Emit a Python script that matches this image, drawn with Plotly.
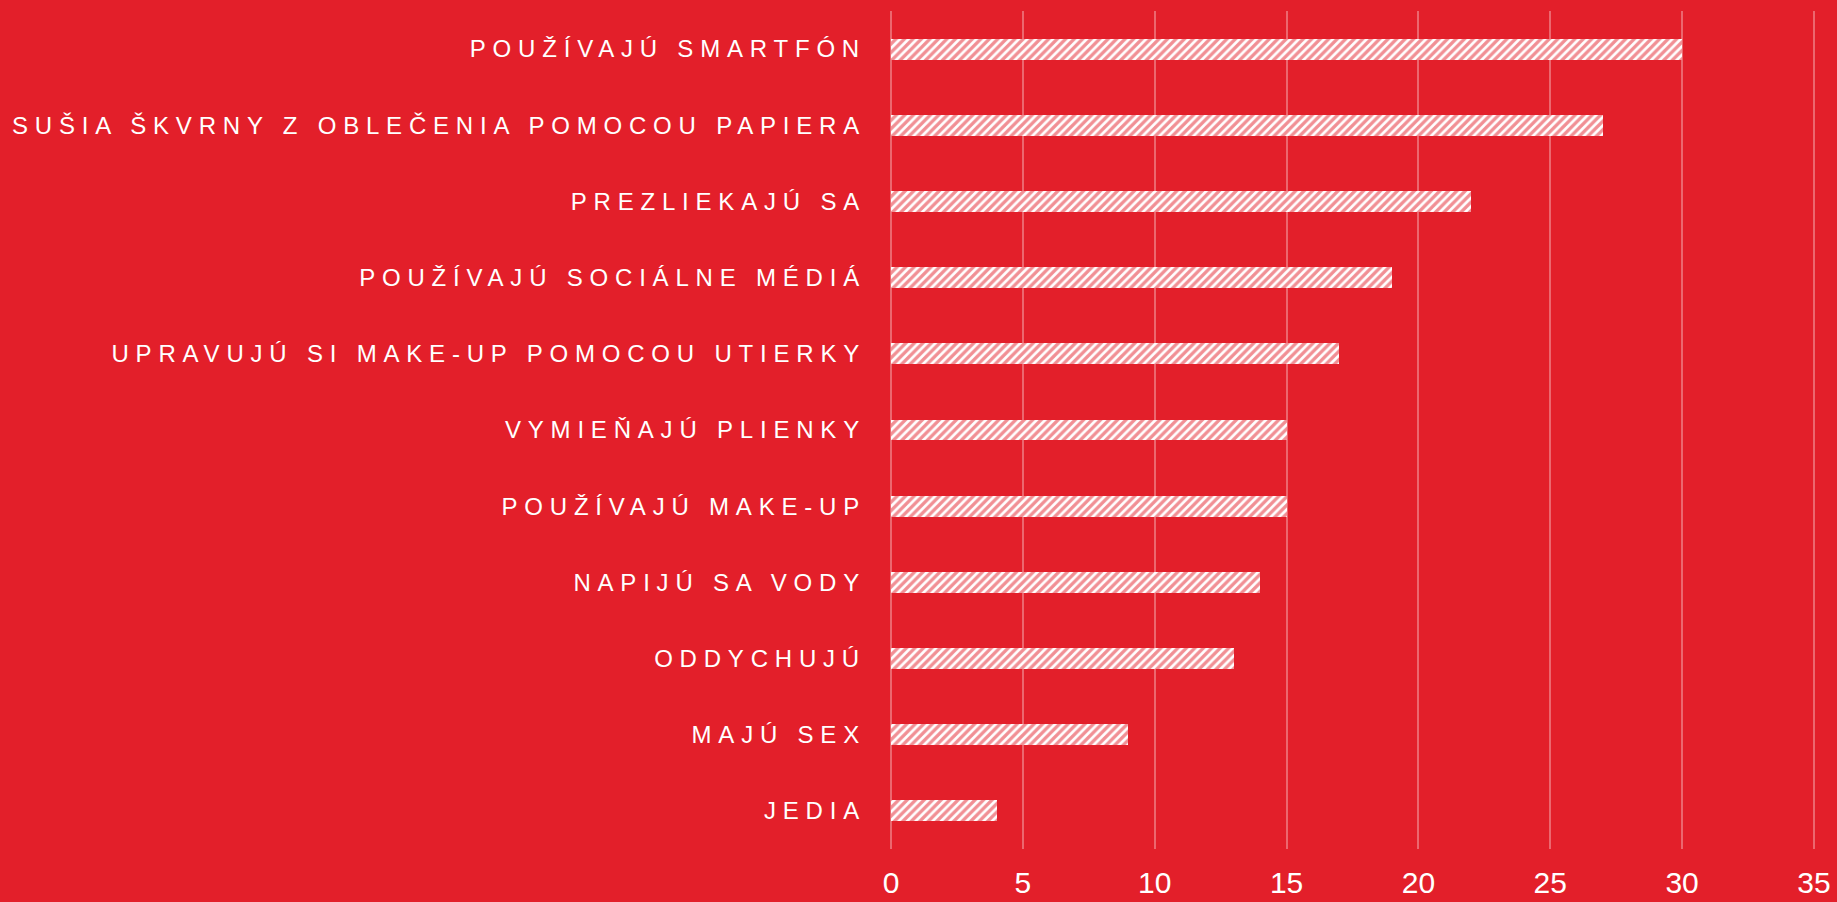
import plotly.graph_objects as go

categories = [
    "POUŽÍVAJÚ SMARTFÓN",
    "SUŠIA ŠKVRNY Z OBLEČENIA POMOCOU PAPIERA",
    "PREZLIEKAJÚ SA",
    "POUŽÍVAJÚ SOCIÁLNE MÉDIÁ",
    "UPRAVUJÚ SI MAKE-UP POMOCOU UTIERKY",
    "VYMIEŇAJÚ PLIENKY",
    "POUŽÍVAJÚ MAKE-UP",
    "NAPIJÚ SA VODY",
    "ODDYCHUJÚ",
    "MAJÚ SEX",
    "JEDIA",
]
values = [30, 27, 22, 19, 17, 15, 15, 14, 13, 9, 4]
x_ticks = [0, 5, 10, 15, 20, 25, 30, 35]

RED = "#E31F2A"

fig = go.Figure(
    go.Bar(
        y=categories,
        x=values,
        orientation="h",
        width=0.275,
        marker=dict(
            color="white",
            line=dict(width=0),
            pattern=dict(shape="/", fgcolor=RED, bgcolor="white",
                         size=6, solidity=0.55, fillmode="overlay"),
        ),
        hoverinfo="skip",
    )
)

fig.update_layout(
    width=1837,
    height=902,
    paper_bgcolor=RED,
    plot_bgcolor=RED,
    margin=dict(l=890, r=22, t=11, b=53),
    showlegend=False,
    bargap=0,
    xaxis=dict(
        range=[-0.04, 35.04],
        tickvals=x_ticks,
        showgrid=True,
        gridcolor="rgba(255,255,255,0.32)",
        gridwidth=1.5,
        zeroline=False,
        showline=False,
        ticks="",
        automargin=False,
        ticklabelstandoff=13,
        tickfont=dict(family="Liberation Sans, Arial, sans-serif", size=30, color="white"),
    ),
    yaxis=dict(
        categoryorder="array",
        categoryarray=categories[::-1],
        autorange=False,
        range=[-0.5, 10.5],
        showgrid=False,
        zeroline=False,
        showline=False,
        ticks="",
        automargin=False,
        ticklabelstandoff=23,
        tickfont=dict(family="Liberation Sans, Arial, sans-serif", size=24, color="white"),
    ),
)

post = """
document.body.style.margin='0';
var gd = document.getElementById('{plot_id}');
function ls(){ gd.querySelectorAll('.ytick text').forEach(function(t){ t.style.letterSpacing='6.8px'; }); }
ls();
gd.on('plotly_afterplot', ls);
"""

fig.write_html("out.html", post_script=post, config={"displayModeBar": False})
